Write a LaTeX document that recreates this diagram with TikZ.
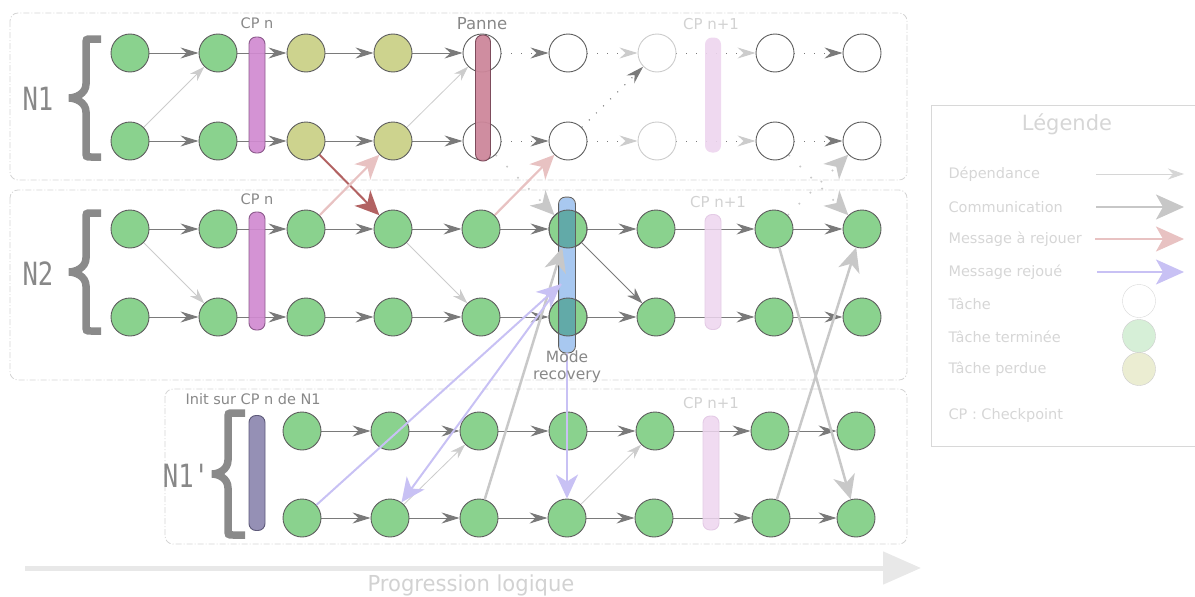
\documentclass[tikz,border=0pt]{standalone}
\usepackage{fontspec}
\setmainfont{DejaVu Sans}
\newfontfamily\monofont{DejaVu Sans Mono}
\usetikzlibrary{arrows.meta,backgrounds}

\definecolor{gfill}{HTML}{8AD28E}
\definecolor{ofill}{HTML}{CDD38E}
\definecolor{nline}{HTML}{5E5E5E}
\definecolor{cpmag}{HTML}{D08AD0}
\definecolor{cpmagl}{HTML}{8C5A8C}
\definecolor{pannec}{HTML}{CD879B}
\definecolor{pannel}{HTML}{7D4C5C}
\definecolor{cplight}{HTML}{EDD5EE}
\definecolor{cplightl}{HTML}{E4CBE6}
\definecolor{recblue}{HTML}{A8C8F0}
\definecolor{recteal}{HTML}{62AAA8}
\definecolor{initbar}{HTML}{9590B5}
\definecolor{initbarl}{HTML}{5E5A7A}
\definecolor{boxline}{HTML}{D4D4D4}
\definecolor{lbl}{HTML}{888888}
\definecolor{lbllight}{HTML}{D2D2D2}
\definecolor{arrdark}{HTML}{7A7A7A}
\definecolor{arrlight}{HTML}{CCCCCC}
\definecolor{bigcomm}{HTML}{C8C8C8}
\definecolor{redlight}{HTML}{E8C2C2}
\definecolor{reddark}{HTML}{B26262}
\definecolor{purp}{HTML}{C8C1F4}
\definecolor{braceg}{HTML}{8A8A8A}
\definecolor{legc}{HTML}{D6D6D6}
\definecolor{legbox}{HTML}{D8D8D8}
\definecolor{progc}{HTML}{E8E8E8}

\newcommand{\mybrace}[5]{%
  \draw[braceg, line width=7.5pt]
    (#1,#4) -- ({#2+5},#4) .. controls (#2,#4) and (#2,#4) .. (#2,{#4+6})
    -- (#2,{(#4+#5)/2-14})
    .. controls (#2,{(#4+#5)/2-4}) and ({#3+6},{(#4+#5)/2}) .. (#3,{(#4+#5)/2})
    .. controls ({#3+6},{(#4+#5)/2}) and (#2,{(#4+#5)/2+4}) .. (#2,{(#4+#5)/2+14})
    -- (#2,{#5-6}) .. controls (#2,#5) and (#2,#5) .. ({#2+5},#5) -- (#1,#5);}

\begin{document}
\begin{tikzpicture}[x=1pt,y=-1pt,
  task/.style={circle, minimum size=38pt, inner sep=0pt, draw=nline, line width=0.9pt},
  done/.style={task, fill=gfill},
  lost/.style={task, fill=ofill},
  todo/.style={task, fill=white},
  ghost/.style={task, fill=white, draw=arrlight},
  barbox/.style={rounded corners=7pt, minimum width=16pt, inner sep=0pt, line width=0.9pt},
  grp/.style={draw=boxline, rounded corners=8pt, line width=0.8pt, dash pattern=on 6pt off 2pt on 1pt off 2pt},
  flow/.style={draw=arrdark, line width=1pt, -{Stealth[inset=6pt,length=18pt,width=11pt]}},
  flowdot/.style={flow, dash pattern=on 1pt off 9pt},
  flowdotl/.style={draw=arrdark, line width=1pt, dash pattern=on 1pt off 9pt, -{Stealth[inset=6pt,length=18pt,width=11pt,color=arrlight]}},
  dep/.style={draw=arrlight, line width=0.8pt, -{Stealth[inset=5pt,length=15pt,width=10pt]}},
  depdark/.style={draw=arrdark, line width=0.9pt, -{Stealth[inset=5pt,length=16pt,width=11pt]}},
  big/.style={draw=bigcomm, line width=2.5pt, -{Stealth[inset=7pt,length=24pt,width=22pt]}},
  bigdot/.style={draw=bigcomm, line width=1.6pt, dash pattern=on 1.6pt off 14pt, -{Stealth[inset=7pt,length=24pt,width=22pt]}},
  redl/.style={draw=redlight, line width=2.2pt, -{Stealth[inset=7pt,length=24pt,width=22pt]}},
  redd/.style={draw=reddark, line width=2pt, -{Stealth[inset=7pt,length=24pt,width=22pt]}},
  purpl/.style={draw=purp, line width=2pt, -{Stealth[inset=7pt,length=24pt,width=22pt]}},
  lab/.style={text=lbl, font=\fontsize{14.5}{16}\selectfont},
  labl/.style={text=lbllight, font=\fontsize{15}{16}\selectfont},
  big lab/.style={text=lbl, font=\monofont\fontsize{32}{32}\selectfont},
  legtxt/.style={anchor=west, text=legc, font=\fontsize{14.5}{16}\selectfont}
]
\useasboundingbox (0,0) rectangle (1195,597);

% ---------- tasks ----------
\foreach \x/\s [count=\i] in {130/done,218/done,306/lost,393/lost,482/todo,568/todo,657/ghost,775/todo,862/todo}
  \node[\s] (a\i) at (\x,53) {};
\foreach \x/\s [count=\i] in {130/done,218/done,306/lost,393/lost,482/todo,568/todo,657/ghost,775/todo,862/todo}
  \node[\s] (b\i) at (\x,141) {};
\foreach \x [count=\i] in {130,218,306,393,481,568,656,774,862}
  \node[done] (c\i) at (\x,229) {};
\foreach \x [count=\i] in {130,218,306,393,481,568,656,774,862}
  \node[done] (d\i) at (\x,317) {};
\foreach \x [count=\i] in {302,390,479,568,655,770,856}
  \node[done] (e\i) at (\x,431) {};
\foreach \x [count=\i] in {302,390,479,567,654,771,856}
  \node[done] (f\i) at (\x,518) {};

% ---------- background: boxes and row arrows ----------
\begin{pgfonlayer}{background}
  \draw[grp] (10,13) rectangle (907,180);
  \draw[grp] (10,190) rectangle (907,380);
  \draw[grp] (165,389) rectangle (907,544);

  \foreach \i [evaluate=\i as \j using {int(\i+1)}] in {1,...,4} {
    \draw[flow] (a\i) -- (a\j);
    \draw[flow] (b\i) -- (b\j);
  }
  \draw[flowdot] (a5) -- (a6);  \draw[flowdot] (b5) -- (b6);
  \draw[flowdotl] (a6) -- (a7); \draw[flowdotl] (b6) -- (b7);
  \draw[flowdotl] (a7) -- (a8); \draw[flowdotl] (b7) -- (b8);
  \draw[flowdot] (a8) -- (a9);  \draw[flowdot] (b8) -- (b9);
  \foreach \i [evaluate=\i as \j using {int(\i+1)}] in {1,...,8} {
    \draw[flow] (c\i) -- (c\j);
    \draw[flow] (d\i) -- (d\j);
  }
  \foreach \i [evaluate=\i as \j using {int(\i+1)}] in {1,...,6} {
    \draw[flow] (e\i) -- (e\j);
    \draw[flow] (f\i) -- (f\j);
  }
  % dependencies
  \draw[dep] (b1) -- (a2);
  \draw[dep] (b4) -- (a5);
  \draw[flowdot, line width=1.1pt] (b6) -- (a7);
  \draw[dep] (c1) -- (d2);
  \draw[dep] (c4) -- (d5);
  \draw[depdark] (c6) -- (d7);
  \draw[dep] (f2) -- (e3);
  \draw[dep] (f4) -- (e5);
\end{pgfonlayer}

% ---------- checkpoint bars ----------
\node[barbox, draw=cpmagl, fill=cpmag, fill opacity=0.92, minimum height=116pt] (cp1) at (257,95) {};
\node[barbox, draw=pannel, fill=pannec, fill opacity=0.95, minimum height=126pt, minimum width=15pt] (pan) at (483,98) {};
\node[barbox, fill=cplight, fill opacity=0.9, minimum height=115pt] (cp1b) at (713,95) {};
\node[barbox, draw=cpmagl, fill=cpmag, fill opacity=0.92, minimum height=118pt] (cp2) at (257,271) {};
\node[barbox, draw=cplightl, fill=cplight, fill opacity=0.85, minimum height=115pt] (cp2b) at (713,272) {};
\node[barbox, draw=initbarl, fill=initbar, minimum height=115pt] (ini) at (257,473) {};
\node[barbox, draw=cplightl, fill=cplight, fill opacity=0.85, minimum height=114pt] (cp3b) at (711,473) {};

% recovery bar with teal overlap
\node[barbox, fill=recblue, minimum height=155pt] (rec) at (567,275) {};
\foreach \n in {c6,d6} {
  \begin{scope}
    \clip (\n) circle (19pt);
    \fill[recteal] (rec.south west) rectangle (rec.north east);
  \end{scope}
  \draw[nline, line width=0.9pt] (\n) circle (19pt);
}
\draw[nline, line width=0.9pt, rounded corners=7pt] (rec.south west) rectangle (rec.north east);

% ---------- cross-node messages ----------
\draw[big] (f3) -- (c6);
\draw[big] (c8) -- (f7);
\draw[big] (f6) -- (c9);
\draw[bigdot] (b5) -- (c6);
\draw[bigdot] (b8) -- (c9);
\draw[bigdot] (c8) -- (b9);
\draw[redd] (b3) -- (c4);
\draw[redl] (c3) -- (b4);
\draw[redl] (c5) -- (b6);
\coordinate (rb) at (561,284);
\draw[purpl] (f1) -- (rb);
\draw[purpl] (rb) -- (f2);
\draw[purpl] (rec.south) -- (f4);

% ---------- labels ----------
\node[lab] (lcp1) at (257,23) {CP n};
\node[text=lbl, font=\fontsize{16.5}{18}\selectfont] (lpan) at (482,24) {Panne};
\node[labl] (lcp1b) at (711,24) {CP n+1};
\node[lab] (lcp2) at (257,199) {CP n};
\node[labl] (lcp2b) at (718,202) {CP n+1};
\node[labl] (lcp3b) at (711,403) {CP n+1};
\node[lab, anchor=west] (linit) at (182,399) {Init sur CP n de N1};
\node[text=lbl, font=\fontsize{15.5}{16}\selectfont, inner sep=0pt, anchor=base] (lrec1) at (567,362) {Mode};
\node[text=lbl, font=\fontsize{15.5}{16}\selectfont, inner sep=0pt, anchor=base] (lrec2) at (567,379) {recovery};

% braces and node-group names
\mybrace{101}{86}{69}{39}{157}
\mybrace{101}{86}{69}{213}{331}
\mybrace{245}{228}{212}{413}{535}
\node[big lab] (ln1) at (38,99) {\scalebox{0.8}[1]{N1}};
\node[big lab] (ln2) at (38,274) {\scalebox{0.8}[1]{N2}};
\node[big lab] (ln3) at (186,476) {\scalebox{0.8}[1]{N1'}};

% ---------- progression ----------
\coordinate (pa) at (25,568);
\coordinate (pb) at (921,568);
\draw[draw=progc, line width=5pt, -{Triangle[length=38pt,width=32pt]}] (pa) -- (pb);
\node[text=lbllight, font=\fontsize{22}{23}\selectfont] (lprog) at (471,585) {\scalebox{0.96}[1]{Progression logique}};

% ---------- legend ----------
\draw[draw=legbox, line width=1pt] (931,105) rectangle (1200,446);
\node[text=legc, font=\fontsize{21}{22}\selectfont] (leg) at (1067,124) {Légende};
\node[legtxt] (lg1) at (945,174) {Dépendance};
\node[legtxt] (lg2) at (945,207) {Communication};
\node[legtxt] (lg3) at (945,239) {Message à rejouer};
\node[legtxt] (lg4) at (945,272) {Message rejoué};
\node[legtxt] (lg5) at (945,304) {Tâche};
\node[legtxt] (lg6) at (945,337) {Tâche terminée};
\node[legtxt] (lg7) at (945,369) {Tâche perdue};
\node[legtxt] (lg8) at (945,415) {CP : Checkpoint};
\coordinate (la1) at (1096,174); \coordinate (lb1) at (1184,174);
\coordinate (la2) at (1096,207); \coordinate (lb2) at (1184,207);
\coordinate (la3) at (1095,239); \coordinate (lb3) at (1184,239);
\coordinate (la4) at (1097,272); \coordinate (lb4) at (1184,272);
\draw[draw=arrlight!80!white, line width=0.9pt, -{Stealth[inset=5pt,length=16pt,width=11pt]}] (la1) -- (lb1);
\draw[draw=black!22, line width=2.4pt, -{Stealth[inset=7pt,length=28pt,width=25pt]}] (la2) -- (lb2);
\draw[draw=redlight, line width=2.4pt, -{Stealth[inset=7pt,length=28pt,width=25pt]}] (la3) -- (lb3);
\draw[draw=purp, line width=2.4pt, -{Stealth[inset=7pt,length=28pt,width=25pt]}] (la4) -- (lb4);
\node[circle, minimum size=33pt, inner sep=0pt, draw=legbox, fill=white] (lc1) at (1139,301) {};
\node[circle, minimum size=33pt, inner sep=0pt, draw=black!20, fill=gfill!35!white] (lc2) at (1139,336) {};
\node[circle, minimum size=33pt, inner sep=0pt, draw=black!20, fill=ofill!40!white] (lc3) at (1139,369) {};
\end{tikzpicture}
\end{document}
